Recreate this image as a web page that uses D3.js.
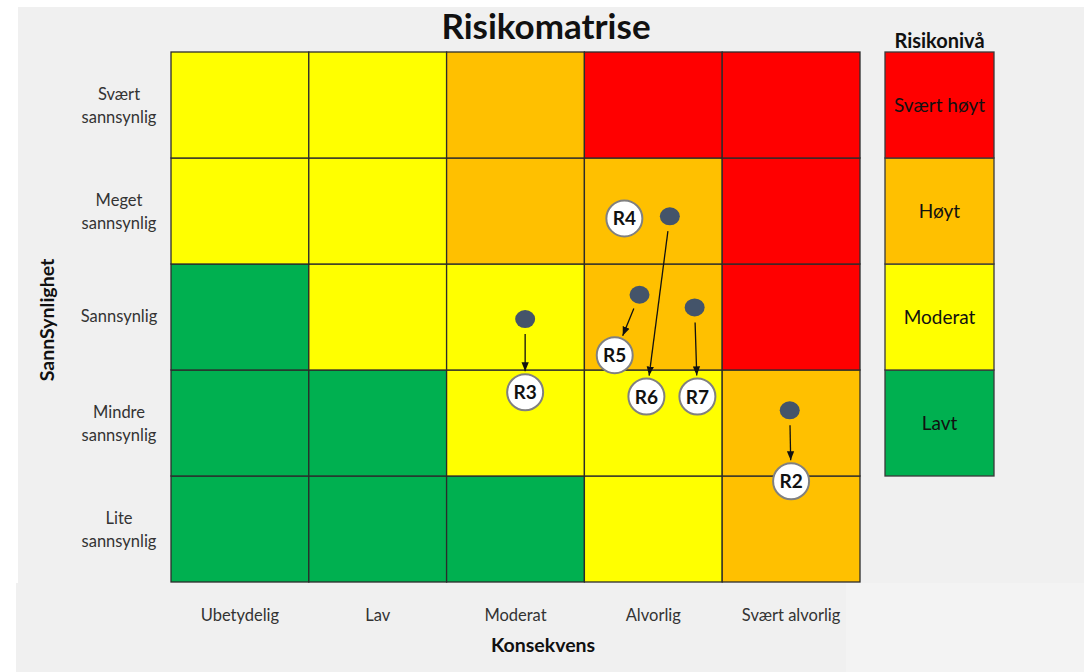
<!DOCTYPE html>
<html>
<head>
<meta charset="utf-8">
<script src="https://cdn.jsdelivr.net/npm/d3@7"></script>
<style>
  body { margin: 0; background: #fff; }
  text { font-family: Lato, "Open Sans", sans-serif; }
</style>
</head>
<body>
<div id="chart"></div>
<script>
// chart data
const consequences = ['Ubetydelig', 'Lav', 'Moderat', 'Alvorlig', 'Svært alvorlig'];
const likelihoods = ['Lite\nsannsynlig', 'Mindre\nsannsynlig', 'Sannsynlig', 'Meget\nsannsynlig', 'Svært\nsannsynlig'];
// risk level per cell, rows from "Lite" (bottom) to "Svært" (top)
const levelGrid = [
  [0, 0, 0, 1, 2],
  [0, 0, 1, 1, 2],
  [0, 1, 1, 2, 3],
  [1, 1, 2, 2, 3],
  [1, 1, 2, 3, 3]
];
const levels = ['Lavt', 'Moderat', 'Høyt', 'Svært høyt'];
const levelColors = ['#00b050', '#ffff00', '#ffc000', '#ff0000'];

// risks: position before (dot) and after (label), in cell units
const risks = [
  { id: 'R2', x0: 4.49, y0: 1.62, x1: 4.50, y1: 0.95 },
  { id: 'R3', x0: 2.57, y0: 2.48, x1: 2.57, y1: 1.79 },
  { id: 'R4', x0: null, y0: null, x1: 3.29, y1: 3.43 },
  { id: 'R5', x0: 3.40, y0: 2.71, x1: 3.22, y1: 2.14 },
  { id: 'R6', x0: 3.62, y0: 3.45, x1: 3.45, y1: 1.75 },
  { id: 'R7', x0: 3.80, y0: 2.59, x1: 3.82, y1: 1.75 }
];

const width = 1084, height = 672;
const gLeft = 171, gRight = 860, gTop = 52, gBottom = 582;

const svg = d3.select('#chart').append('svg')
  .attr('width', width).attr('height', height);

// backgrounds
svg.append('rect').attr('x', 18).attr('y', 7).attr('width', width - 18).attr('height', 576).attr('fill', '#f0f0f0');
svg.append('rect').attr('x', 16).attr('y', 583).attr('width', 830).attr('height', 89).attr('fill', '#f0f0f0');
svg.append('rect').attr('x', 846).attr('y', 583).attr('width', width - 846).attr('height', 89).attr('fill', '#f3f3f3');

const x = d3.scaleLinear().domain([0, 5]).range([gLeft, gRight]);
const y = d3.scaleLinear().domain([0, 5]).range([gBottom, gTop]);
const xBand = d3.scaleBand().domain(consequences).range([gLeft, gRight]);
const yBand = d3.scaleBand().domain(likelihoods).range([gBottom, gTop]);

// cells
const cells = [];
levelGrid.forEach((row, r) => row.forEach((lv, c) => cells.push({ r, c, lv })));
svg.append('g').selectAll('rect').data(cells).join('rect')
  .attr('x', d => xBand(consequences[d.c]))
  .attr('y', d => yBand(likelihoods[d.r]))
  .attr('width', xBand.bandwidth())
  .attr('height', yBand.bandwidth())
  .attr('fill', d => levelColors[d.lv])
  .attr('stroke', '#2b2b2b')
  .attr('stroke-width', 1.3);

// title
svg.append('text').attr('x', 546).attr('y', 39).attr('text-anchor', 'middle')
  .attr('font-size', 35).attr('font-weight', 'bold').attr('fill', '#111').text('Risikomatrise');

// x axis
const xAxis = svg.append('g').attr('transform', `translate(0,${gBottom})`)
  .call(d3.axisBottom(xBand).tickSize(0).tickPadding(27));
xAxis.select('.domain').remove();
xAxis.selectAll('text').attr('font-size', 16.5).attr('fill', '#333').attr('font-family', 'Lato, sans-serif');
svg.append('text').attr('x', 543).attr('y', 652).attr('text-anchor', 'middle')
  .attr('font-size', 19.5).attr('font-weight', 'bold').attr('fill', '#111').text('Konsekvens');

// y axis
const yAxis = svg.append('g').attr('transform', `translate(${gLeft},0)`)
  .call(d3.axisLeft(yBand).tickSize(0).tickFormat(''));
yAxis.select('.domain').remove();
yAxis.selectAll('.tick').each(function(d) {
  const lines = d.split('\n');
  const t = d3.select(this).append('text')
    .attr('x', -52).attr('text-anchor', 'middle')
    .attr('font-size', 16.5).attr('fill', '#333');
  lines.forEach((ln, i) => {
    t.append('tspan').attr('x', -52)
      .attr('dy', i === 0 ? (lines.length === 1 ? 5 : -5) : 23).text(ln);
  });
});
svg.append('text').attr('transform', `translate(54,${(gTop + gBottom) / 2 + 3}) rotate(-90)`)
  .attr('text-anchor', 'middle').attr('font-size', 19.5).attr('font-weight', 'bold')
  .attr('fill', '#111').text('SannSynlighet');

// legend
const legX = 885, legW = 109;
const legY = d3.scaleBand().domain(levels.slice().reverse()).range([gTop, 476]);
svg.append('text').attr('x', legX + legW / 2).attr('y', 48).attr('text-anchor', 'middle')
  .attr('font-size', 20).attr('font-weight', 'bold').attr('fill', '#111').text('Risikonivå');
const leg = svg.append('g').selectAll('g').data(levels).join('g')
  .attr('transform', d => `translate(${legX},${legY(d)})`);
leg.append('rect').attr('width', legW).attr('height', legY.bandwidth())
  .attr('fill', (d, i) => levelColors[i]).attr('stroke', '#3a3a3a').attr('stroke-width', 1.3);
leg.append('text').attr('x', legW / 2).attr('y', legY.bandwidth() / 2 + 7)
  .attr('text-anchor', 'middle').attr('font-size', 19).attr('fill', '#111').text(d => d);

// arrowhead
svg.append('defs').append('marker').attr('id', 'arr')
  .attr('viewBox', '0 0 10 10').attr('refX', 10).attr('refY', 5)
  .attr('markerWidth', 7).attr('markerHeight', 7).attr('orient', 'auto')
  .append('path').attr('d', 'M0,1 L10,5 L0,9 Z').attr('fill', '#111');

const labR = 18, dotRx = 10, dotRy = 9;
const moved = risks.filter(d => d.x0 !== null);

// arrows
svg.append('g').selectAll('line').data(moved).join('line')
  .each(function(d) {
    const ax = x(d.x0), ay = y(d.y0), bx = x(d.x1), by = y(d.y1);
    const len = Math.hypot(bx - ax, by - ay);
    const ux = (bx - ax) / len, uy = (by - ay) / len;
    d3.select(this)
      .attr('x1', ax + ux * 15).attr('y1', ay + uy * 15)
      .attr('x2', bx - ux * (labR + 3)).attr('y2', by - uy * (labR + 3));
  })
  .attr('stroke', '#111').attr('stroke-width', 1.3).attr('marker-end', 'url(#arr)');

// dots (before)
svg.append('g').selectAll('ellipse').data(moved).join('ellipse')
  .attr('cx', d => x(d.x0)).attr('cy', d => y(d.y0))
  .attr('rx', dotRx).attr('ry', dotRy).attr('fill', '#44546a');

// labels (after)
const lab = svg.append('g').selectAll('g').data(risks).join('g')
  .attr('transform', d => `translate(${x(d.x1)},${y(d.y1)})`);
lab.append('circle').attr('r', labR).attr('fill', '#fff')
  .attr('stroke', '#808080').attr('stroke-width', 2);
lab.append('text').attr('y', 7).attr('text-anchor', 'middle')
  .attr('font-family', '"Liberation Sans", Arial, sans-serif')
  .attr('font-size', 19).attr('font-weight', 'bold').attr('fill', '#111').text(d => d.id);
</script>
</body>
</html>
